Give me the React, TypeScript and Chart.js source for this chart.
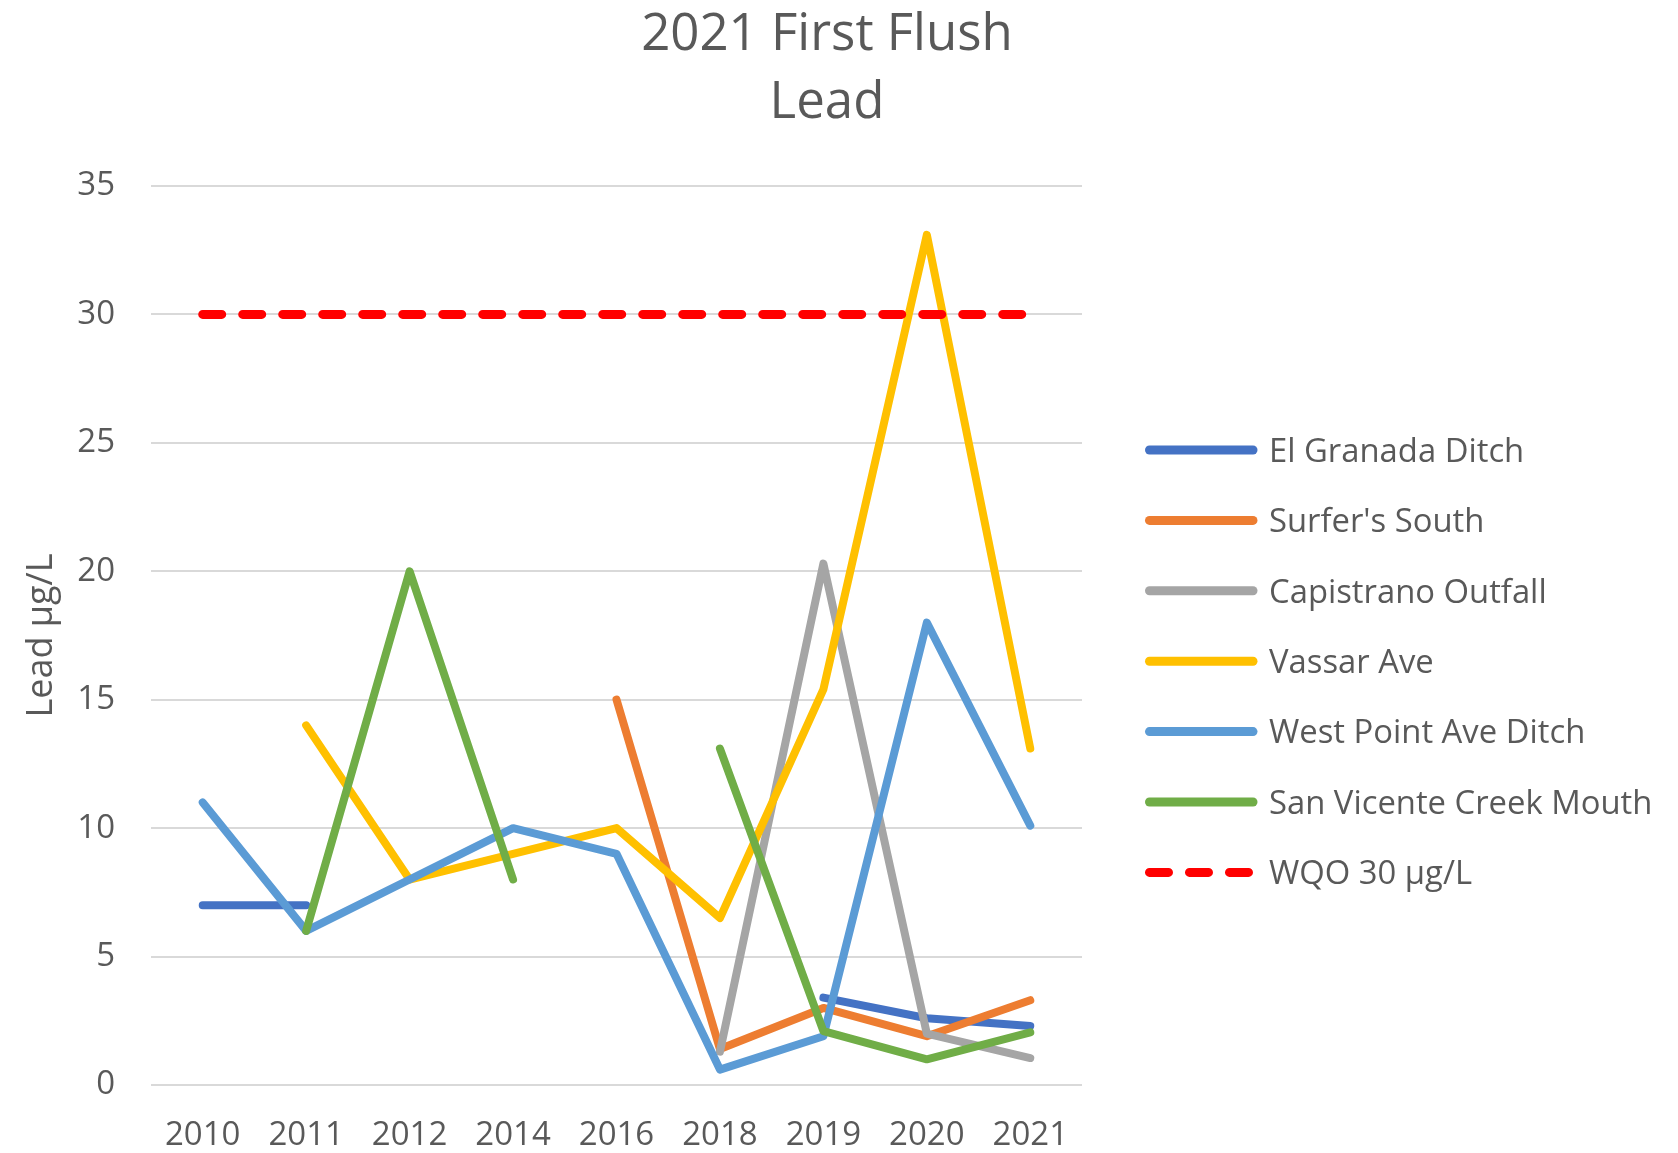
import React, { useEffect, useRef } from "react";
import { Chart, registerables } from "chart.js";

Chart.register(...registerables);

const categories = ["2010", "2011", "2012", "2014", "2016", "2018", "2019", "2020", "2021"];

const elGranada = [7, 7, null, null, null, null, 3.4, 2.6, 2.3];
const surfersSouth = [null, null, null, null, 15, 1.4, 3.0, 1.9, 3.3];
const capistrano = [null, null, null, null, null, 1.3, 20.3, 2.0, 1.05];
const vassar = [null, 14, 8, 9, 10, 6.5, 15.4, 33.1, 13.1];
const westPoint = [11, 6, 8, 10, 9, 0.6, 1.9, 18, 10.1];
const sanVicente = [null, 6, 20, 8, null, 13.1, 2.1, 1.0, 2.05];
const wqo = [30, 30, 30, 30, 30, 30, 30, 30, 30];

const seriesNames = [
  "El Granada Ditch",
  "Surfer's South",
  "Capistrano Outfall",
  "Vassar Ave",
  "West Point Ave Ditch",
  "San Vicente Creek Mouth",
  "WQO 30 µg/L",
];
const seriesColors = ["#4472C4", "#ED7D31", "#A5A5A5", "#FFC000", "#5B9BD5", "#70AD47", "#FF0000"];
const yTicks = [0, 5, 10, 15, 20, 25, 30, 35];

const TEXT = "#595959";
const FONT = "'Open Sans', sans-serif";

const sideLegend = {
  id: "sideLegend",
  afterDraw(chart: any) {
    const ctx = chart.ctx as CanvasRenderingContext2D;
    ctx.save();
    chart.data.datasets.forEach((ds: any, i: number) => {
      const y = 450 + i * 70.4;
      const dashed = Array.isArray(ds.borderDash) && ds.borderDash.length > 0;
      ctx.beginPath();
      ctx.strokeStyle = ds.borderColor;
      ctx.lineWidth = 9;
      ctx.lineCap = "round";
      ctx.setLineDash(dashed ? ds.borderDash : []);
      ctx.moveTo(1149.5, y);
      ctx.lineTo(dashed ? 1251 : 1253, y);
      ctx.stroke();
      ctx.setLineDash([]);
      ctx.fillStyle = TEXT;
      ctx.font = `32.8px ${FONT}`;
      ctx.textAlign = "left";
      ctx.textBaseline = "alphabetic";
      ctx.fillText(ds.label, 1269, y + 11.7);
    });
    ctx.restore();
  },
};

export default function App() {
  const ref = useRef<HTMLCanvasElement | null>(null);

  useEffect(() => {
    if (!ref.current) return;
    const allData = [elGranada, surfersSouth, capistrano, vassar, westPoint, sanVicente, wqo];
    const datasets = allData.map((d, i) => {
      const isWqo = i === allData.length - 1;
      return {
        label: seriesNames[i],
        data: d,
        borderColor: seriesColors[i],
        backgroundColor: seriesColors[i],
        borderWidth: isWqo ? 9 : 8,
        borderDash: isWqo ? [19, 21] : [],
        borderCapStyle: "round" as const,
        borderJoinStyle: "round" as const,
        pointRadius: 0,
        pointHoverRadius: 0,
        tension: 0,
        spanGaps: false,
        fill: false,
        order: allData.length - 1 - i,
      };
    });

    const chart = new Chart(ref.current, {
      type: "line",
      data: { labels: categories, datasets },
      options: {
        animation: false,
        responsive: false,
        devicePixelRatio: 1,
        layout: { padding: { left: 0, right: 24, top: 0, bottom: 0 } },
        plugins: {
          legend: { display: false },
          tooltip: { enabled: false },
          title: {
            display: true,
            text: ["2021 First Flush", "Lead"],
            color: TEXT,
            font: { family: FONT, size: 51, weight: "normal", lineHeight: 1.343 },
            padding: { top: 1, bottom: 48 },
          },
        },
        scales: {
          x: {
            type: "category",
            offset: true,
            grid: { display: false, drawTicks: false },
            border: { display: false },
            ticks: {
              color: TEXT,
              font: { family: FONT, size: 33 },
              padding: 31,
              maxRotation: 0,
              autoSkip: false,
            },
            afterFit: (s: any) => {
              s.height = 68;
            },
          },
          y: {
            type: "linear",
            position: "left",
            min: 0,
            max: 35,
            afterBuildTicks: (s: any) => {
              s.ticks = yTicks.map((v) => ({ value: v }));
            },
            grid: { color: "#D9D9D9", lineWidth: 2, drawTicks: false },
            border: { display: false },
            ticks: {
              color: TEXT,
              font: { family: FONT, size: 33 },
              padding: 36,
            },
            title: {
              display: true,
              text: "Lead µg/L",
              color: TEXT,
              font: { family: FONT, size: 36, lineHeight: 1.2 },
              padding: { top: 20, bottom: 0 },
            },
            afterFit: (s: any) => {
              s.width = 151;
            },
          },
          spacer: {
            type: "linear",
            position: "right",
            display: true,
            grid: { display: false, drawTicks: false },
            border: { display: false },
            ticks: { display: false },
            afterFit: (s: any) => {
              s.width = 572;
            },
          },
        },
      },
      plugins: [sideLegend],
    });

    return () => chart.destroy();
  }, []);

  return (
    <div
      style={{
        position: "fixed",
        left: 0,
        top: 0,
        width: 1678,
        height: 1153,
        background: "#ffffff",
      }}
    >
      <canvas ref={ref} width={1678} height={1153} style={{ display: "block" }} />
    </div>
  );
}
